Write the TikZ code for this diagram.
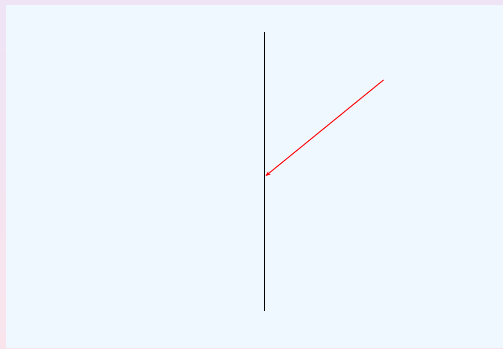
\documentclass[tikz,border=0pt]{standalone}
\usetikzlibrary{arrows.meta}
\definecolor{innerbg}{HTML}{EFF7FF}
\definecolor{lav}{HTML}{EEE4F6}
\definecolor{pinkbg}{HTML}{F9E4EC}
\tikzset{
  wall/.style={draw=black, line width=1.7pt},
  ray/.style={draw=red, line width=0.9pt, -{Stealth[length=5pt,width=4pt]}}
}
\begin{document}
\begin{tikzpicture}[x=1pt,y=1pt]
  \useasboundingbox (0,0) rectangle (503,348);
  \shade[top color=lav, bottom color=pinkbg] (0,0) rectangle (503,348);
  \fill[innerbg] (6,0) rectangle (503,343);
  \coordinate (top) at (264.5,316);
  \coordinate (bot) at (264.5,37);
  \coordinate (src) at (383.5,268);
  \coordinate (hit) at (265.5,172);
  \draw[wall] (top) -- (bot);
  \draw[ray] (src) -- (hit);
\end{tikzpicture}
\end{document}
